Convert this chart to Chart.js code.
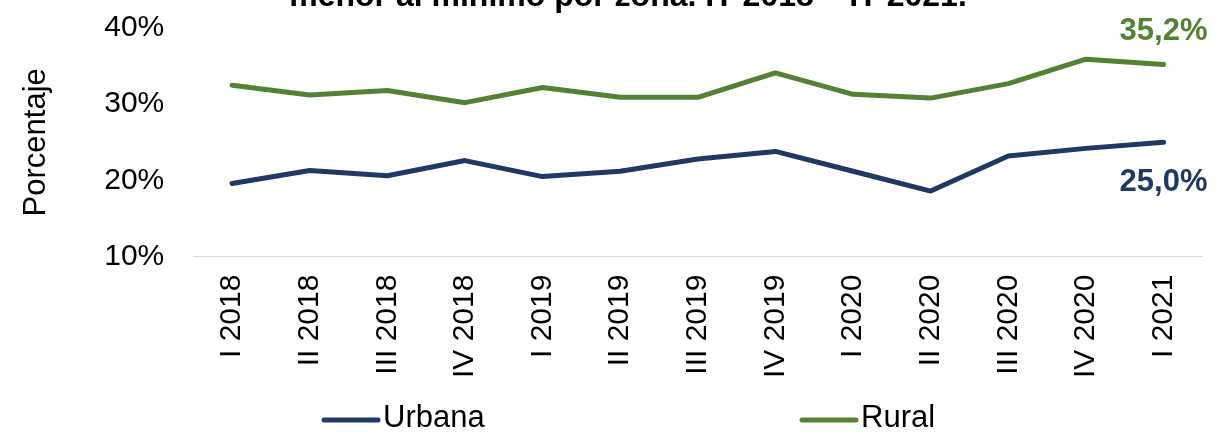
<!DOCTYPE html>
<html>
<head>
<meta charset="utf-8">
<script src="https://cdn.jsdelivr.net/npm/chart.js@4"></script>
<style>
  html, body { margin: 0; padding: 0; background: #fff; }
  #caja { width: 1218px; height: 433px; position: relative; }
</style>
</head>
<body>
<div id="caja"><canvas id="graficoZona"></canvas></div>
<script>
// trimestres
const trimestres = ['I 2018', 'II 2018', 'III 2018', 'IV 2018', 'I 2019', 'II 2019', 'III 2019',
  'IV 2019', 'I 2020', 'II 2020', 'III 2020', 'IV 2020', 'I 2021'];

// porcentajes por zona
const urbana = [19.6, 21.3, 20.6, 22.6, 20.5, 21.2, 22.8, 23.8, 21.2, 18.6, 23.2, 24.2, 25.0];
const rural = [32.5, 31.2, 31.8, 30.2, 32.2, 30.9, 30.9, 34.1, 31.3, 30.8, 32.7, 35.9, 35.2];

const ticksY = [10, 20, 30, 40];

const titulo = 'menor al mínimo por zona. IT 2018 – IT 2021.';
const fuente = '"Liberation Sans", Arial, sans-serif';

// Etiqueta del ultimo punto de cada serie
const etiquetaFinal = {
  id: 'etiquetaFinal',
  afterDatasetsDraw(chart, args, opts) {
    const ctx = chart.ctx;
    ctx.save();
    ctx.font = 'bold 31px ' + fuente;
    ctx.textAlign = 'center';
    ctx.textBaseline = 'middle';
    chart.data.datasets.forEach(function(ds, i) {
      const meta = chart.getDatasetMeta(i);
      const ult = meta.data[meta.data.length - 1];
      const valor = ds.data[ds.data.length - 1];
      ctx.fillStyle = ds.borderColor;
      ctx.fillText(valor.toFixed(1).replace('.', ',') + '%', ult.x + opts.dx, ult.y + opts.dy[i]);
    });
    ctx.restore();
  }
};

// Titulo cortado en la parte superior
const tituloCortado = {
  id: 'tituloCortado',
  afterDraw(chart, args, opts) {
    const ctx = chart.ctx;
    ctx.save();
    ctx.font = 'bold 32px ' + fuente;
    ctx.fillStyle = '#000';
    ctx.textAlign = 'center';
    ctx.textBaseline = 'alphabetic';
    ctx.fillText(titulo, opts.x, opts.y);
    ctx.restore();
  }
};

// Leyenda abajo, con los items separados como en el original
const leyendaAbajo = {
  id: 'leyendaAbajo',
  afterDraw(chart, args, opts) {
    const ctx = chart.ctx;
    ctx.save();
    ctx.font = '31px ' + fuente;
    ctx.textAlign = 'left';
    ctx.textBaseline = 'middle';
    chart.data.datasets.forEach(function(ds, i) {
      var x = opts.x[i];
      ctx.strokeStyle = ds.borderColor;
      ctx.lineWidth = ds.borderWidth;
      ctx.lineCap = 'round';
      ctx.beginPath();
      ctx.moveTo(x, opts.y + 2);
      ctx.lineTo(x + opts.largo, opts.y + 2);
      ctx.stroke();
      ctx.fillStyle = '#000';
      ctx.fillText(ds.label, x + opts.largo + 5, opts.y);
    });
    ctx.restore();
  }
};

var canvas = document.getElementById('graficoZona');
var ctx = canvas.getContext('2d');

var grafico = new Chart(ctx, {
  type: 'line',
  data: {
    labels: trimestres,
    datasets: [
      {
        label: 'Urbana',
        data: urbana,
        borderColor: '#203864',
        backgroundColor: '#203864',
        borderWidth: 5,
        pointRadius: 0,
        tension: 0,
        borderCapStyle: 'round',
        borderJoinStyle: 'round'
      },
      {
        label: 'Rural',
        data: rural,
        borderColor: '#548235',
        backgroundColor: '#548235',
        borderWidth: 5,
        pointRadius: 0,
        tension: 0,
        borderCapStyle: 'round',
        borderJoinStyle: 'round'
      }
    ]
  },
  options: {
    responsive: true,
    maintainAspectRatio: false,
    animation: false,
    layout: {
      padding: { top: 28, right: 12, left: 0, bottom: 37 }
    },
    plugins: {
      title: { display: false },
      tooltip: { enabled: false },
      legend: { display: false },
      etiquetaFinal: { dx: 0, dy: [40, -33] },
      tituloCortado: { x: 628, y: 6 },
      leyendaAbajo: { x: [324, 802], y: 418, largo: 54 }
    },
    scales: {
      x: {
        offset: true,
        grid: { display: false, drawTicks: false },
        border: { display: true, color: '#d9d9d9', width: 1 },
        ticks: {
          color: '#000',
          font: { family: fuente, size: 30 },
          minRotation: 90,
          maxRotation: 90,
          autoSkip: false,
          padding: 18
        }
      },
      y: {
        min: 10,
        max: 40,
        afterBuildTicks: function(axis) {
          axis.ticks = ticksY.map(function(v) { return { value: v }; });
        },
        // marcas invisibles: dan el hueco entre etiquetas y area
        grid: { display: false, drawTicks: true, tickLength: 26 },
        border: { display: false },
        title: {
          display: true,
          text: 'Porcentaje',
          color: '#000',
          font: { family: fuente, size: 31 },
          padding: { top: 18, bottom: 46 }
        },
        ticks: {
          color: '#000',
          font: { family: fuente, size: 30 },
          padding: 3,
          autoSkip: false,
          callback: function(v) { return v + '%'; }
        }
      }
    }
  },
  plugins: [etiquetaFinal, tituloCortado, leyendaAbajo]
});
</script>
</body>
</html>
